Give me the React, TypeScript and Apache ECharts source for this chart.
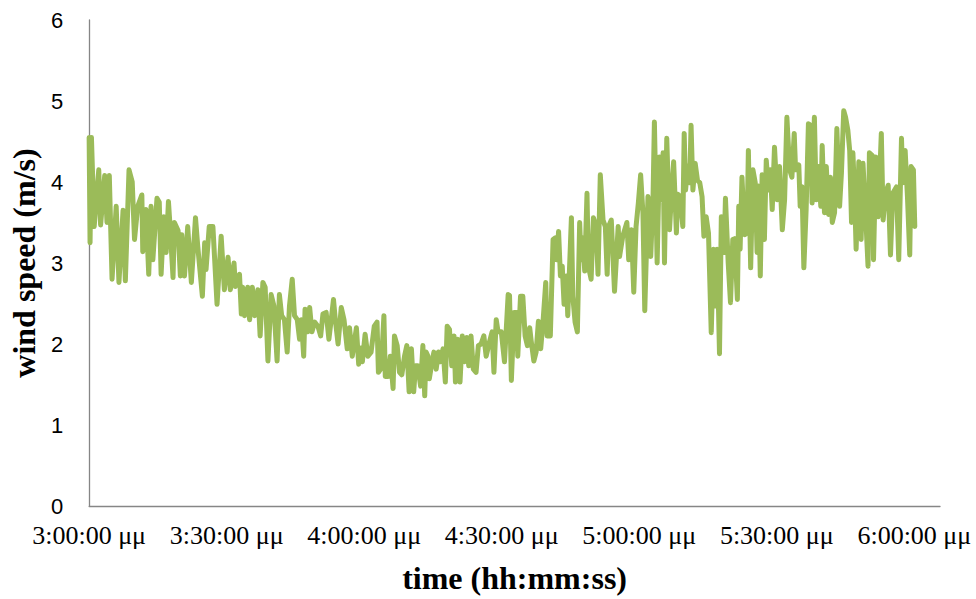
import React, { useEffect, useRef } from "react";
import * as echarts from "echarts";

// minutes after 3:00:00 μμ
const minutesAfter3 = [
  0, 0.2, 0.5, 1.1, 2.1, 2.5, 3.4, 3.9, 4.4, 5.0, 5.9, 6.5, 7.4, 7.9, 8.7, 9.4, 9.9, 10.6, 11.5, 11.7,
  12.4, 13.0, 13.5, 13.9, 14.8, 15.3, 15.7, 16.3, 16.8, 17.3, 17.7, 18.3, 18.6, 19.4, 19.9, 20.2, 20.8, 21.5, 22.3, 23.2,
  23.7, 24.7, 25.2, 25.5, 26.2, 27.0, 27.9, 28.8, 29.5, 30.3, 30.8, 31.6, 31.9, 32.8, 33.2, 33.5, 33.9, 34.6, 35.0, 35.6,
  36.1, 36.8, 37.3, 37.9, 38.4, 39.0, 39.7, 40.3, 41.0, 41.5, 42.0, 42.6, 43.2, 43.7, 44.3, 44.8, 45.4, 45.9, 46.3, 46.8,
  47.1, 47.7, 48.1, 48.6, 49.2, 49.9, 50.5, 51.0, 51.7, 52.3, 52.8, 53.3, 53.7, 54.3, 55.0, 55.6, 56.3, 56.8, 57.4, 58.3,
  58.8, 59.3, 59.6, 60.2, 60.8, 61.5, 62.2, 62.8, 63.1, 63.7, 64.3, 64.6, 65.2, 65.7, 66.3, 66.6, 67.2, 67.7, 68.2, 68.8,
  69.3, 69.8, 70.3, 70.8, 71.2, 71.7, 72.3, 72.8, 73.2, 73.5, 73.9, 74.2, 74.8, 75.2, 75.7, 76.2, 76.6, 77.2, 77.7, 78.1,
  78.6, 79.1, 79.6, 79.9, 80.4, 80.9, 81.4, 81.9, 82.4, 82.8, 83.3, 83.8, 84.4, 84.9, 85.5, 86.1, 86.6, 87.3, 87.9, 88.3,
  88.8, 89.2, 89.9, 90.6, 91.4, 91.7, 92.1, 92.7, 93.2, 93.5, 94.1, 94.6, 95.1, 95.6, 96.1, 96.4, 97.0, 97.5, 98.0, 98.5,
  99.0, 99.6, 99.9, 100.6, 101.2, 101.7, 102.0, 102.4, 102.8, 103.2, 103.6, 104.1, 104.4, 105.2, 105.5, 106.0, 106.5, 107.0, 107.3, 107.7,
  108.1, 108.6, 108.9, 109.5, 110.0, 110.6, 111.0, 111.5, 112.1, 112.6, 113.0, 113.3, 113.9, 114.6, 115.4, 115.7, 116.4, 117.3, 117.7, 118.3,
  118.8, 119.3, 119.8, 120.3, 120.8, 121.2, 121.9, 122.5, 123.0, 123.3, 123.9, 124.4, 125.0, 125.2, 125.5, 126.0, 126.6, 127.0, 127.5, 128.1,
  128.4, 128.9, 129.5, 129.8, 130.1, 130.6, 131.0, 131.3, 131.7, 132.2, 132.7, 133.2, 133.7, 134.1, 134.6, 135.1, 135.7, 136.2, 136.6, 137.0,
  137.5, 137.9, 138.5, 138.8, 139.4, 139.9, 140.4, 140.8, 141.4, 141.7, 142.0, 142.4, 143.0, 143.5, 143.8, 144.3, 144.8, 145.3, 145.7, 146.0,
  146.4, 146.8, 147.3, 147.7, 148.2, 148.6, 149.0, 149.5, 150.1, 150.6, 151.2, 151.7, 152.2, 152.8, 153.3, 153.8, 154.1, 154.8, 155.1, 155.5,
  155.9, 156.4, 156.9, 157.4, 157.7, 158.2, 158.6, 159.1, 159.6, 159.9, 160.4, 160.8, 161.3, 161.7, 162.1, 162.6, 163.1, 163.7, 164.1, 164.6,
  165.0, 165.5, 165.9, 166.3, 166.6, 167.0, 167.3, 167.9, 168.4, 168.8, 169.4, 169.9, 170.2, 170.8, 171.1, 171.6, 172.1, 172.8, 173.2, 173.7,
  174.3, 174.8, 175.3, 176.1, 176.6, 177.2, 177.5, 178.0, 178.5, 179.0, 179.3, 179.8, 180.1,
];

// wind speed (m/s)
const windSpeed = [
  4.55, 3.25, 4.55, 3.45, 4.15, 3.47, 4.08, 3.5, 4.08, 2.8, 3.7, 2.76, 3.65, 2.78, 4.15, 4.0, 3.29, 3.7, 3.84, 3.14,
  3.66, 2.86, 3.7, 3.04, 3.8, 3.75, 2.86, 3.57, 3.13, 3.76, 3.41, 2.82, 3.5, 3.4, 2.84, 3.35, 2.84, 3.45, 2.76, 3.56,
  3.2, 2.59, 3.25, 2.92, 3.45, 3.45, 2.49, 3.33, 2.67, 3.07, 2.67, 3.0, 2.71, 2.86, 2.37, 2.7, 2.35, 2.7, 2.3, 2.7,
  2.35, 2.67, 2.1, 2.76, 2.7, 1.79, 2.61, 2.47, 1.79, 2.61, 2.35, 2.3, 1.9, 2.47, 2.8, 2.35, 2.3, 2.06, 2.3, 1.85,
  2.43, 2.15, 2.45, 2.15, 2.27, 2.22, 2.1, 2.37, 2.39, 2.06, 2.3, 2.55, 2.3, 2.0, 2.45, 2.3, 1.94, 2.2, 1.85, 2.2,
  1.75, 1.95, 1.78, 2.12, 1.85, 1.9, 2.22, 2.27, 1.65, 1.7, 2.35, 1.6, 1.6, 1.85, 1.45, 2.1, 1.98, 1.65, 1.62, 1.85,
  1.98, 1.41, 1.94, 1.41, 1.73, 1.73, 1.48, 1.98, 1.36, 1.9, 1.85, 1.57, 1.78, 1.9, 1.69, 1.9, 1.78, 1.94, 1.53, 2.22,
  2.18, 1.73, 2.1, 1.53, 2.06, 1.53, 2.1, 1.78, 2.08, 1.73, 2.1, 1.69, 1.65, 1.98, 2.0, 2.1, 1.85, 2.02, 2.15, 1.65,
  2.3, 2.15, 2.15, 1.78, 2.61, 2.6, 1.55, 2.39, 2.39, 1.85, 2.59, 2.59, 2.1, 1.98, 2.2, 2.05, 1.79, 1.9, 2.28, 1.94,
  2.27, 2.76, 2.1, 2.1, 3.29, 3.31, 3.04, 3.39, 2.84, 2.96, 2.49, 2.84, 2.35, 3.56, 2.59, 2.27, 2.15, 3.5, 3.04, 3.31,
  2.9, 3.86, 2.96, 2.8, 3.56, 3.45, 2.86, 4.09, 3.53, 3.45, 2.86, 3.45, 3.53, 2.65, 3.45, 3.08, 3.33, 3.5, 3.04, 3.41,
  2.64, 3.45, 3.74, 4.09, 3.62, 2.41, 3.82, 3.08, 3.8, 4.74, 3.0, 4.31, 3.78, 4.36, 3.0, 4.54, 3.41, 3.82, 4.25, 3.37,
  3.85, 3.82, 3.45, 4.6, 3.9, 4.2, 3.99, 4.7, 3.9, 4.23, 4.02, 3.99, 3.82, 3.33, 3.57, 3.37, 2.14, 3.17, 2.47, 3.17,
  1.88, 3.57, 3.13, 3.8, 3.0, 2.51, 3.29, 3.3, 2.55, 3.7, 3.17, 4.06, 3.35, 3.37, 4.39, 2.94, 4.15, 3.99, 3.13, 3.95,
  2.84, 4.09, 3.29, 4.27, 3.9, 4.15, 3.66, 4.43, 3.78, 4.19, 3.41, 3.78, 4.8, 4.15, 4.06, 4.6, 4.15, 4.21, 3.7, 3.94,
  2.94, 3.66, 4.72, 4.7, 3.74, 4.8, 3.78, 4.19, 3.7, 4.45, 3.62, 4.19, 3.6, 4.06, 3.5, 3.62, 4.66, 3.7, 4.11, 4.88,
  4.8, 4.64, 4.39, 3.5, 4.36, 3.8, 3.17, 4.25, 3.29, 4.23, 3.57, 2.96, 4.36, 4.33, 3.04, 4.31, 3.57, 4.6, 3.53, 3.86,
  3.96, 3.1, 3.86, 3.94, 3.04, 4.54, 3.99, 4.39, 3.82, 3.1, 4.19, 4.15, 3.45,
];

const yTicks = [0, 1, 2, 3, 4, 5, 6];
const xAxisTitle = "time (hh:mm:ss)";
const yAxisTitle = "wind speed (m/s)";

function fmtTime(v: number): string {
  const total = Math.round(v);
  if (Math.abs(v - total) > 1e-6 || total % 30 !== 0) return "";
  const h = 3 + Math.floor(total / 60);
  const m = total % 60;
  return `${h}:${m < 10 ? "0" + m : m}:00 μμ`;
}

export default function App() {
  const ref = useRef<HTMLDivElement>(null);
  useEffect(() => {
    if (!ref.current) return;
    const chart = echarts.init(ref.current, undefined, { renderer: "svg" });
    const data = minutesAfter3.map((m, i) => [m, windSpeed[i]]);
    chart.setOption({
      animation: false,
      backgroundColor: "#ffffff",
      grid: { left: 88, right: 36, top: 20, bottom: 92, containLabel: false },
      xAxis: {
        type: "value",
        min: 0,
        max: 185.6,
        interval: 30,
        name: xAxisTitle,
        nameLocation: "middle",
        nameGap: 56,
        nameTextStyle: {
          fontFamily: "Liberation Serif",
          fontWeight: "bold",
          fontSize: 32,
          color: "#000",
        },
        axisLine: { show: true, lineStyle: { color: "#868686", width: 1.3 } },
        axisTick: { show: false },
        splitLine: { show: false },
        axisLabel: {
          formatter: (v: number) => fmtTime(v),
          fontFamily: "Liberation Serif",
          fontSize: 26,
          color: "#000",
          margin: 16,
          showMaxLabel: false,
          hideOverlap: false,
        },
      },
      yAxis: {
        type: "value",
        min: yTicks[0],
        max: yTicks[yTicks.length - 1],
        interval: 1,
        name: yAxisTitle,
        nameLocation: "middle",
        nameGap: 47,
        nameTextStyle: {
          fontFamily: "Liberation Serif",
          fontWeight: "bold",
          fontSize: 32,
          color: "#000",
        },
        axisLine: { show: true, lineStyle: { color: "#868686", width: 1.3 } },
        axisTick: { show: false },
        splitLine: { show: false },
        axisLabel: {
          fontFamily: "Liberation Sans",
          fontSize: 22,
          color: "#000",
          margin: 26,
        },
      },
      series: [
        {
          type: "line",
          data,
          showSymbol: false,
          symbol: "none",
          lineStyle: { color: "#9BBB59", width: 5, join: "round", cap: "round" },
          itemStyle: { color: "#9BBB59" },
        },
      ],
    });
    return () => chart.dispose();
  }, []);
  return (
    <div
      ref={ref}
      style={{ position: "fixed", left: 0, top: 0, width: 976, height: 599, background: "#fff" }}
    />
  );
}
